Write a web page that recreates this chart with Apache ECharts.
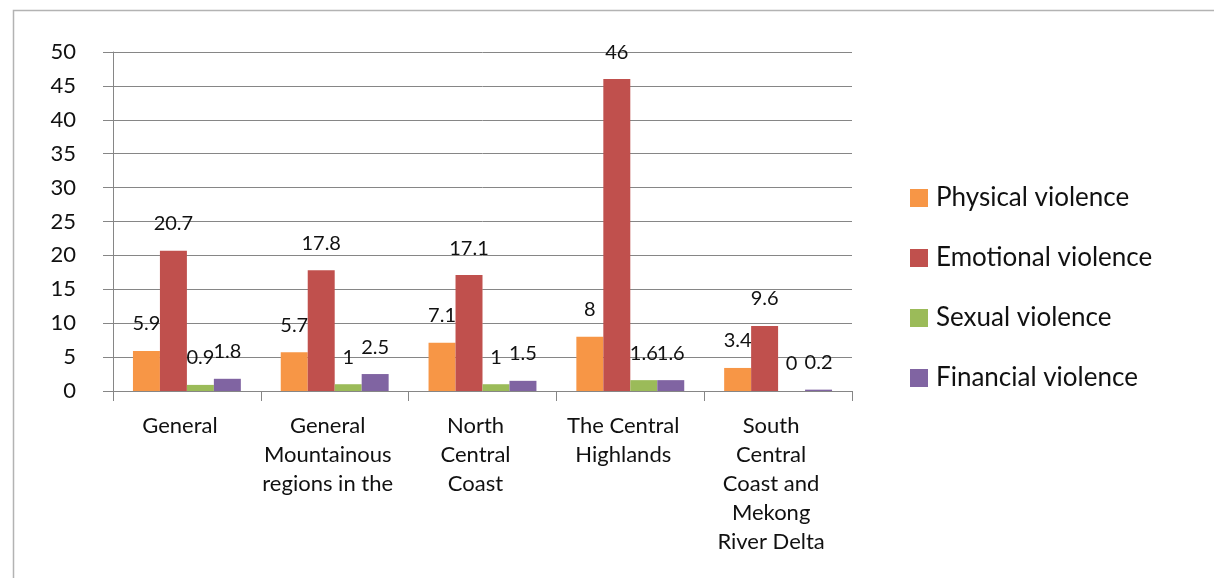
<!DOCTYPE html>
<html>
<head>
<meta charset="utf-8">
<script src="https://cdn.jsdelivr.net/npm/echarts@6/dist/echarts.min.js"></script>
<style>
  html, body { margin: 0; padding: 0; background: #fff; }
  #chart { width: 1214px; height: 578px; }
</style>
</head>
<body>
<div id="chart"></div>
<script>
// Regions along the category axis
const categories = [
  'General',
  'General\nMountainous\nregions in the',
  'North\nCentral\nCoast',
  'The Central\nHighlands',
  'South\nCentral\nCoast and\nMekong\nRiver Delta'
];

// Prevalence of each type of violence by region (%)
const physical  = [5.9, 5.7, 7.1, 8, 3.4];
const emotional = [20.7, 17.8, 17.1, 46, 9.6];
const sexual    = [0.9, 1, 1, 1.6, 0];
const financial = [1.8, 2.5, 1.5, 1.6, 0.2];

const seriesNames = ['Physical violence', 'Emotional violence', 'Sexual violence', 'Financial violence'];
const seriesColors = ['#F79646', '#C0504D', '#9BBB59', '#8064A2'];
const seriesData = [physical, emotional, sexual, financial];

const yTicks = { min: 0, max: 50, interval: 5 };

const FONT = 'Lato';
const chart = echarts.init(document.getElementById('chart'));

chart.setOption({
  animation: false,
  textStyle: { fontFamily: FONT },
  graphic: [{
    type: 'rect',
    shape: { x: 13.5, y: 10.5, width: 1300, height: 700 },
    style: { fill: 'none', stroke: '#b3b3b3', lineWidth: 1.5 },
    silent: true
  }],
  grid: { left: 113, right: 362, top: 52, bottom: 187 },
  legend: {
    orient: 'vertical',
    left: 905,
    top: 180,
    itemWidth: 18,
    itemHeight: 18,
    itemGap: 34,
    icon: 'rect',
    textStyle: { fontSize: 26, color: '#111', fontFamily: FONT, padding: [0, 0, 0, 3] },
    data: seriesNames
  },
  xAxis: {
    type: 'category',
    data: categories,
    axisLine: { lineStyle: { color: '#868686', width: 1 } },
    axisTick: { show: true, length: 10, alignWithLabel: false, lineStyle: { color: '#868686' } },
    axisLabel: {
      color: '#111', fontSize: 22, lineHeight: 29, margin: 20, interval: 0,
      padding: [0, 14, 0, 0], fontFamily: FONT
    }
  },
  yAxis: {
    type: 'value',
    min: yTicks.min,
    max: yTicks.max,
    interval: yTicks.interval,
    axisLine: { show: true, lineStyle: { color: '#868686', width: 1 } },
    axisTick: { show: true, length: 10, lineStyle: { color: '#868686' } },
    axisLabel: { color: '#111', fontSize: 22, margin: 37, fontFamily: FONT },
    splitLine: { lineStyle: { color: '#868686', width: 1 } }
  },
  series: seriesNames.map((name, i) => ({
    name,
    type: 'bar',
    data: seriesData[i],
    barGap: '0%',
    barCategoryGap: '27%',
    itemStyle: { color: seriesColors[i] },
    label: {
      show: true,
      position: 'top',
      distance: 17,
      color: '#111',
      fontSize: 20,
      fontFamily: FONT
    }
  }))
});
</script>
</body>
</html>
